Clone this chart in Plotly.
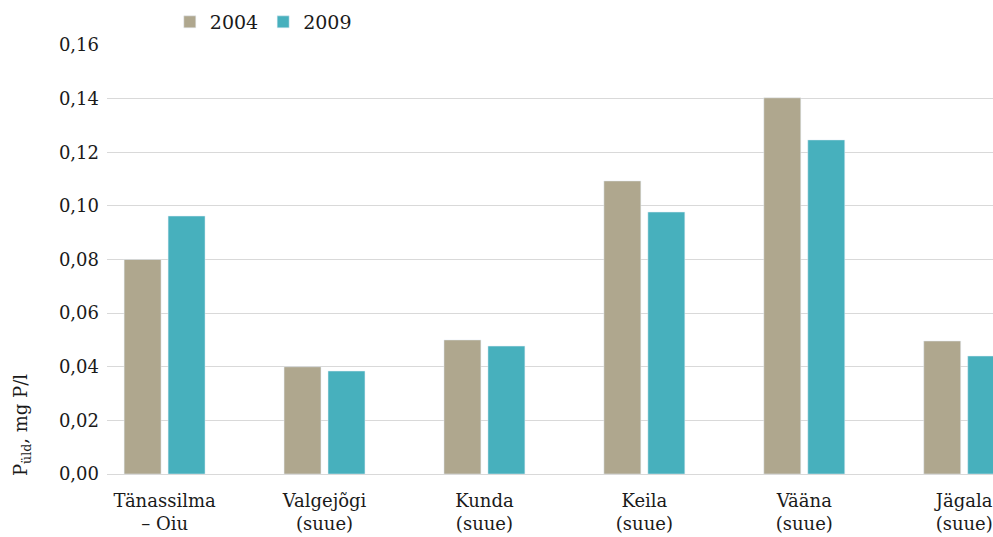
'''
    Bar chart of total phosphorus (P_üld) at river mouths, 2004 vs 2009.
'''

import plotly.graph_objects as go

rivers = ['Tänassilma<br>– Oiu', 'Valgejõgi<br>(suue)', 'Kunda<br>(suue)',
          'Keila<br>(suue)', 'Vääna<br>(suue)', 'Jägala<br>(suue)']
values_2004 = [0.080, 0.040, 0.050, 0.1093, 0.1403, 0.0496]
values_2009 = [0.0962, 0.0384, 0.0477, 0.0977, 0.1246, 0.0440]
y_ticks = [0.00, 0.02, 0.04, 0.06, 0.08, 0.10, 0.12, 0.14, 0.16]
y_tick_labels = ['0,00', '0,02', '0,04', '0,06', '0,08', '0,10', '0,12', '0,14', '0,16']

FONT = 'DejaVu Serif'

fig = go.Figure()
fig.add_trace(go.Bar(name='2004', x=rivers, y=values_2004, marker_color='#afa78e'))
fig.add_trace(go.Bar(name='2009', x=rivers, y=values_2009, marker_color='#47b0bd'))

fig.update_layout(
    width=993,
    height=537,
    margin=dict(l=107, r=0, t=45, b=63),
    barmode='group',
    bargap=0.45,
    bargroupgap=0.16,
    plot_bgcolor='white',
    paper_bgcolor='white',
    font=dict(family=FONT, size=18, color='#1a1a1a'),
    showlegend=True,
    legend=dict(
        orientation='h',
        xref='container', yref='container',
        x=0.171, xanchor='left',
        y=0.959, yanchor='middle',
        font=dict(family=FONT, size=19),
        traceorder='normal',
        itemwidth=30,
    ),
)

fig.update_xaxes(
    range=[-0.36, 5.18],
    automargin=False,
    showgrid=False,
    showline=False,
    ticks='',
    ticklabelstandoff=14,
    tickfont=dict(family=FONT, size=18),
)

fig.update_yaxes(
    range=[0, 0.16],
    automargin=False,
    tickvals=y_ticks,
    ticktext=y_tick_labels,
    showgrid=True,
    gridcolor='#d9d9d9',
    gridwidth=1,
    zeroline=True,
    zerolinecolor='#d9d9d9',
    zerolinewidth=1,
    ticks='',
    ticklabelstandoff=7,
    tickfont=dict(family=FONT, size=18),
)

# y-axis title sits low, next to the lower ticks
fig.add_annotation(
    text='P<sub>üld</sub>, mg P/l',
    xref='paper', yref='paper',
    x=-0.096, y=0.114,
    xanchor='center', yanchor='middle',
    textangle=-90,
    showarrow=False,
    font=dict(family=FONT, size=18),
)

# drop the default 8px body margin so the figure fills the window exactly
fig.write_html('out.html', config={'displayModeBar': False},
               post_script="document.body.style.margin = '0';")
